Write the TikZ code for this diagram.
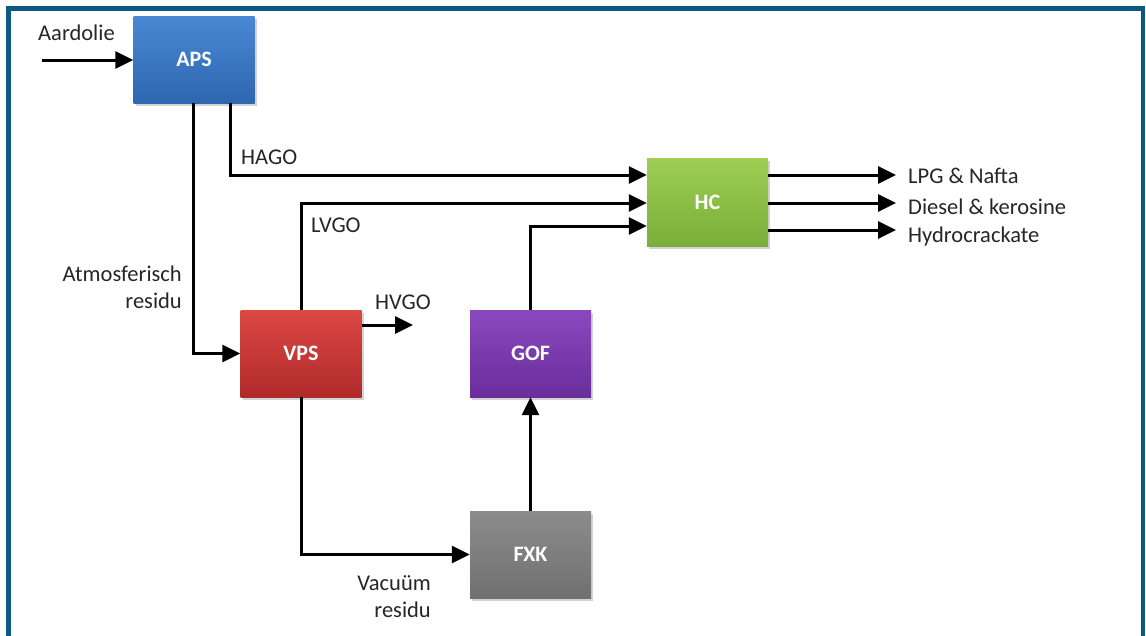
\documentclass[tikz,border=0pt]{standalone}
\usepackage{fontspec}
\setmainfont{Carlito}
\usetikzlibrary{arrows.meta,shadows}

\definecolor{framecol}{RGB}{12,90,128}
\definecolor{apsTop}{RGB}{74,136,212}
\definecolor{apsBot}{RGB}{46,102,176}
\definecolor{vpsTop}{RGB}{220,72,68}
\definecolor{vpsBot}{RGB}{176,42,42}
\definecolor{gofTop}{RGB}{138,72,190}
\definecolor{gofBot}{RGB}{106,46,156}
\definecolor{fxkTop}{RGB}{140,140,140}
\definecolor{fxkBot}{RGB}{112,112,112}
\definecolor{hcTop}{RGB}{158,206,84}
\definecolor{hcBot}{RGB}{122,174,56}

\tikzset{
  unit/.style={rectangle, minimum width=121pt, minimum height=87pt,
    inner sep=0pt, text=white, font=\fontsize{22}{24}\selectfont\bfseries,
    drop shadow={shadow xshift=2pt, shadow yshift=-3pt, opacity=0.35}},
  flow/.style={line width=3pt, -{Triangle[length=18pt,width=17pt]}},
  lbl/.style={font=\fontsize{22.5}{27}\selectfont, text=black!85, inner sep=0pt}
}

\begin{document}
\begin{tikzpicture}[x=1pt,y=-1pt]
\useasboundingbox (0,0) rectangle (1146,635);
\clip (0,0) rectangle (1146,635);

% outer frame, open at the bottom edge of the page
\draw[framecol, line width=4.5pt] (8.5,660) -- (8.5,8.5) -- (1143,8.5) -- (1143,660);

% process units
\node[unit, top color=apsTop, bottom color=apsBot] (APS) at (194,59.5) {APS};
\node[unit, top color=vpsTop, bottom color=vpsBot] (VPS) at (301,353.5) {VPS};
\node[unit, top color=gofTop, bottom color=gofBot] (GOF) at (530.5,353.5) {GOF};
\node[unit, top color=fxkTop, bottom color=fxkBot] (FXK) at (530.5,554.5) {FXK};
\node[unit, top color=hcTop, bottom color=hcBot, minimum height=88pt] (HC) at (707.5,202) {HC};

% free ends
\coordinate (feed) at (42,60);
\coordinate (hvgoEnd) at (413,325);
\coordinate (out1) at (896,175);
\coordinate (out2) at (896,203);
\coordinate (out3) at (896,230);

% feed
\draw[flow] (feed) -- (APS.west |- feed);

% HAGO to HC
\draw[flow] ([xshift=36pt]APS.south) |- (HC.west |- 0,175);
% atmospheric residue to VPS
\draw[flow] ([xshift=-1pt]APS.south) |- (VPS.west);
% LVGO to HC
\draw[flow] (VPS.north) |- (HC.west |- 0,203);
% HVGO
\draw[flow] (VPS.east |- hvgoEnd) -- (hvgoEnd);
% vacuum residue to FXK
\draw[flow] (VPS.south) |- (FXK.west);
% FXK to GOF
\draw[flow] (FXK.north) -- (GOF.south);
% GOF to HC
\draw[flow] (GOF.north) |- (HC.west |- 0,226);
% HC products
\draw[flow] (HC.east |- out1) -- (out1);
\draw[flow] (HC.east |- out2) -- (out2);
\draw[flow] (HC.east |- out3) -- (out3);

% stream labels
\node[lbl, anchor=west] (tAard) at (38,33) {Aardolie};
\node[lbl, anchor=west] (tHago) at (241,157) {HAGO};
\node[lbl, anchor=west] (tLvgo) at (311,225) {LVGO};
\node[lbl, anchor=west] (tHvgo) at (375,302) {HVGO};
\node[lbl, anchor=east, align=right] (tAtm) at (182,287) {Atmosferisch\\residu};
\node[lbl, anchor=east, align=right] (tVac) at (431,597) {Vacuüm\\residu};
\node[lbl, anchor=west] (tP1) at (908,176) {LPG \& Nafta};
\node[lbl, anchor=west] (tP2) at (908,207) {Diesel \& kerosine};
\node[lbl, anchor=west] (tP3) at (908,236) {Hydrocrackate};
\end{tikzpicture}
\end{document}
